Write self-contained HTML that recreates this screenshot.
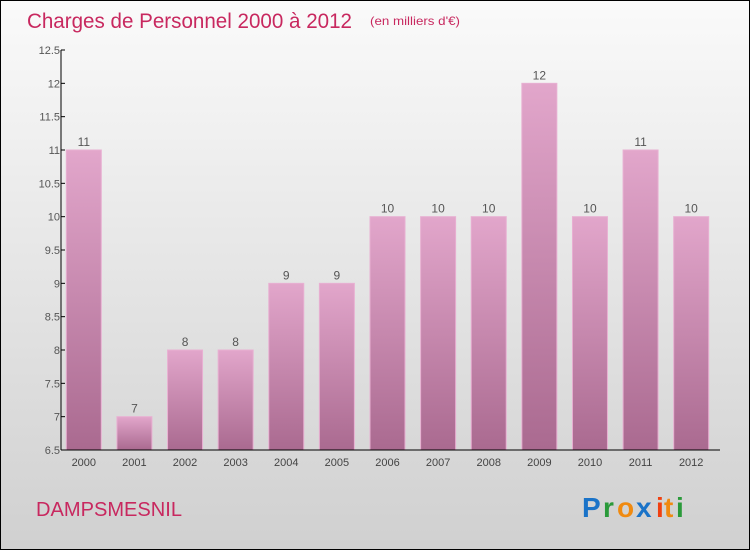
<!DOCTYPE html>
<html><head><meta charset="utf-8"><style>
body{margin:0;width:750px;height:550px;overflow:hidden}
#wrap{position:absolute;left:0;top:0;width:748px;height:548px;border:1px solid #000;background:linear-gradient(#fafafa,#d0d0d0)}
text{font-family:"Liberation Sans",sans-serif}
</style></head><body>
<div id="wrap">
<svg id="c" width="750" height="550" style="position:absolute;left:-1px;top:-1px">
<defs><linearGradient id="g" x1="0" y1="0" x2="0" y2="1"><stop offset="0" stop-color="#e2a6cb"/><stop offset="1" stop-color="#aa6a90"/></linearGradient></defs>
<text x="27" y="28" font-size="21" fill="#c8285f" textLength="325" lengthAdjust="spacingAndGlyphs">Charges de Personnel 2000 à 2012</text>
<text x="370" y="25" font-size="12" fill="#c8285f" textLength="90" lengthAdjust="spacingAndGlyphs">(en milliers d'€)</text>
<text x="36" y="516" font-size="20" fill="#c8285f" textLength="146" lengthAdjust="spacingAndGlyphs">DAMPSMESNIL</text>
<g font-size="28" font-weight="bold">
<text x="582" y="517" fill="#1a73c8">P</text><text x="603" y="517" fill="#2a9a3a">r</text><text x="617" y="517" fill="#f08a10">o</text><text x="636" y="517" fill="#1a73c8">x</text><text x="656" y="517" fill="#f04010">i</text><text x="664" y="517" fill="#f08a10">t</text><text x="676" y="517" fill="#2a9a3a">i</text>
</g>
<g id="plot"></g>
</svg></div>
<script>
const categories=["2000","2001","2002","2003","2004","2005","2006","2007","2008","2009","2010","2011","2012"];
const values=[11,7,8,8,9,9,10,10,10,12,10,11,10];
const yTicks=[6.5,7,7.5,8,8.5,9,9.5,10,10.5,11,11.5,12,12.5];
const yMin=6.5,yMax=12.5,plotTop=50,plotBot=450,x0=62,x1=720;
const yScale=v=>plotBot-(v-yMin)/(yMax-yMin)*(plotBot-plotTop);
const pitch=(x1-x0)/categories.length;
const xc=i=>x0+pitch*(i+0.5)-3.5;
const ns="http://www.w3.org/2000/svg",g=document.getElementById('plot');
function mk(t,a,txt){const e=document.createElementNS(ns,t);for(const k in a)e.setAttribute(k,a[k]);if(txt!=null)e.textContent=txt;g.appendChild(e);return e;}
values.forEach((v,i)=>{
 const b=mk('rect',{x:xc(i)-17.5,y:yScale(v),width:35,height:plotBot-yScale(v),fill:'url(#g)',stroke:'#e8b0d2','stroke-width':1});
 
 
 const l=mk('text',{x:xc(i),y:yScale(v)-4,'font-size':12,fill:'#555','text-anchor':'middle'},String(v));
 
 
 const c=mk('text',{x:xc(i),y:plotBot+16,'font-size':11,fill:'#444','text-anchor':'middle'},categories[i]);
 
 
});
yTicks.forEach(t=>{
 const tk=mk('line',{x1:x0-1,x2:x0+3,y1:yScale(t),y2:yScale(t),stroke:'#000'});
 
 
 const tl=mk('text',{x:x0-2,y:yScale(t)+4,'font-size':11,fill:'#555','text-anchor':'end'},String(t));
 
 
});
const ya=mk('line',{x1:x0-1,x2:x0-1,y1:plotTop,y2:plotBot,stroke:'#000'});


const xa=mk('line',{x1:x0-1,x2:x1,y1:plotBot,y2:plotBot,stroke:'#000'});


</script>
</body></html>
